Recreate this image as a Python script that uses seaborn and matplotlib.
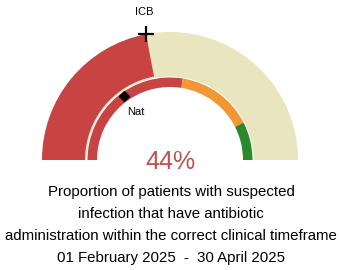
import numpy as np
import matplotlib.pyplot as plt
from matplotlib.patches import Wedge
import seaborn as sns

# values
value = 0.44
icb_value = 0.44
nat_value = 0.30
band_edges = [0.0, 0.55, 0.85, 1.0]
band_colors = ["#C84444", "#F39634", "#2A8A2A"]
value_label = "44%"
title_lines = [
    "Proportion of patients with suspected",
    "infection that have antibiotic",
    "administration within the correct clinical timeframe",
    "01 February 2025  -  30 April 2025",
]

RED = "#C84444"
CREAM = "#E9E5BF"

sns.set_theme(style="white")
plt.rcParams['font.family'] = ['Liberation Sans', 'DejaVu Sans']

W, H = 339, 270
fig = plt.figure(figsize=(W / 100, H / 100), dpi=100)
ax = fig.add_axes([0, 0, 1, 1])

# pixel-like units, gauge centre at (170, 110)
cx, cy = 170, 110
R_OUT = 128


def ang(v):
    return 180 - 180 * v


# outer track + value wedge
ax.add_patch(Wedge((cx, cy), R_OUT, 0, 180, width=R_OUT - 83.5, color=CREAM, lw=0))
ax.add_patch(Wedge((cx, cy), R_OUT, ang(value), 180, width=R_OUT - 85, color=RED, lw=0))

# inner rag band
for lo, hi, col in zip(band_edges[:-1], band_edges[1:], band_colors):
    ax.add_patch(Wedge((cx, cy), 82.5, ang(hi), ang(lo), width=9.5, color=col, lw=0))

# ICB marker
t = np.radians(ang(icb_value))
ix, iy = cx + R_OUT * np.cos(t), cy + R_OUT * np.sin(t)
ax.plot(ix, iy, marker="+", ms=11, mew=1.6, color="black")
ax.text(ix - 2, iy + 22, "ICB", ha="center", va="center", fontsize=8, color="black")

# national marker
t = np.radians(ang(nat_value))
nx, ny = cx + 79 * np.cos(t), cy + 79 * np.sin(t)
ax.plot(nx, ny, marker="D", ms=5, color="black")
ax.text(nx + 12, ny - 16, "Nat", ha="center", va="center", fontsize=8, color="black")

ax.text(cx, cy - 2, value_label, ha="center", va="center", fontsize=18, color="#C0504D")

for i, line in enumerate(title_lines):
    ax.text(171, H - 192 - 22 * i, line, ha="center", va="center", fontsize=10.8, color="black")

ax.set_xlim(0, W)
ax.set_ylim(0, H)
ax.set_aspect("equal")
ax.axis("off")

fig.savefig("out.png", dpi=100)
